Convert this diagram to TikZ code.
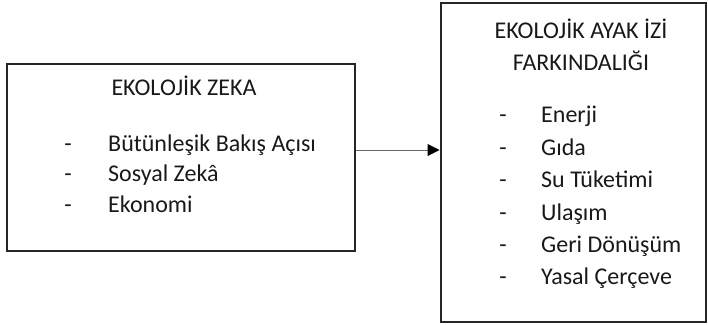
\documentclass[tikz,border=0pt]{standalone}
\usepackage{fontspec}
\setmainfont{Carlito}
\usetikzlibrary{arrows.meta}

\begin{document}
\begin{tikzpicture}[x=1pt,y=-1pt,
        box/.style={draw=black!85, line width=2pt, inner sep=0pt},
        txt/.style={font=\fontsize{24}{29}\selectfont, inner sep=0pt, text=black!90}]
            \useasboundingbox (0,0) rectangle (708,324);

            % kutular
            \node[box, minimum width=348pt, minimum height=187pt] (zeka) at (181,157.5) {};
            \node[box, minimum width=265.5pt, minimum height=319.3pt] (ayak) at (573.25,162.35) {};

            % ok
            \coordinate (okbas) at ([yshift=7.5pt]zeka.east);
            \draw[black!60, line width=1pt, -{Triangle[length=12pt,width=12pt,color=black]}] (okbas) -- (okbas -| ayak.west);

            % sol kutu
            \node[txt, anchor=base] (zbaslik) at (184,95) {EKOLOJİK ZEKA};
            \node[txt, anchor=base] (zt1) at (68,151) {-};
            \node[txt, anchor=base west] (z1) at (108,151) {Bütünleşik Bakış Açısı};
            \node[txt, anchor=base] (zt2) at (68,181.5) {-};
            \node[txt, anchor=base west] (z2) at (108,181.5) {Sosyal Zekâ};
            \node[txt, anchor=base] (zt3) at (68,212) {-};
            \node[txt, anchor=base west] (z3) at (108,212) {Ekonomi};

            % sag kutu
            \node[txt, anchor=base] (abaslik1) at (581,38) {EKOLOJİK AYAK İZİ};
            \node[txt, anchor=base] (abaslik2) at (581,70) {FARKINDALIĞI};
            \node[txt, anchor=base] (at1) at (503,122) {-};
            \node[txt, anchor=base west] (a1) at (541,122) {Enerji};
            \node[txt, anchor=base] (at2) at (503,155) {-};
            \node[txt, anchor=base west] (a2) at (541,155) {Gıda};
            \node[txt, anchor=base] (at3) at (503,187) {-};
            \node[txt, anchor=base west] (a3) at (541,187) {Su Tüketimi};
            \node[txt, anchor=base] (at4) at (503,220) {-};
            \node[txt, anchor=base west] (a4) at (541,220) {Ulaşım};
            \node[txt, anchor=base] (at5) at (503,252) {-};
            \node[txt, anchor=base west] (a5) at (541,252) {Geri Dönüşüm};
            \node[txt, anchor=base] (at6) at (503,284) {-};
            \node[txt, anchor=base west] (a6) at (541,284) {Yasal Çerçeve};

        \end{tikzpicture}
\end{document}
